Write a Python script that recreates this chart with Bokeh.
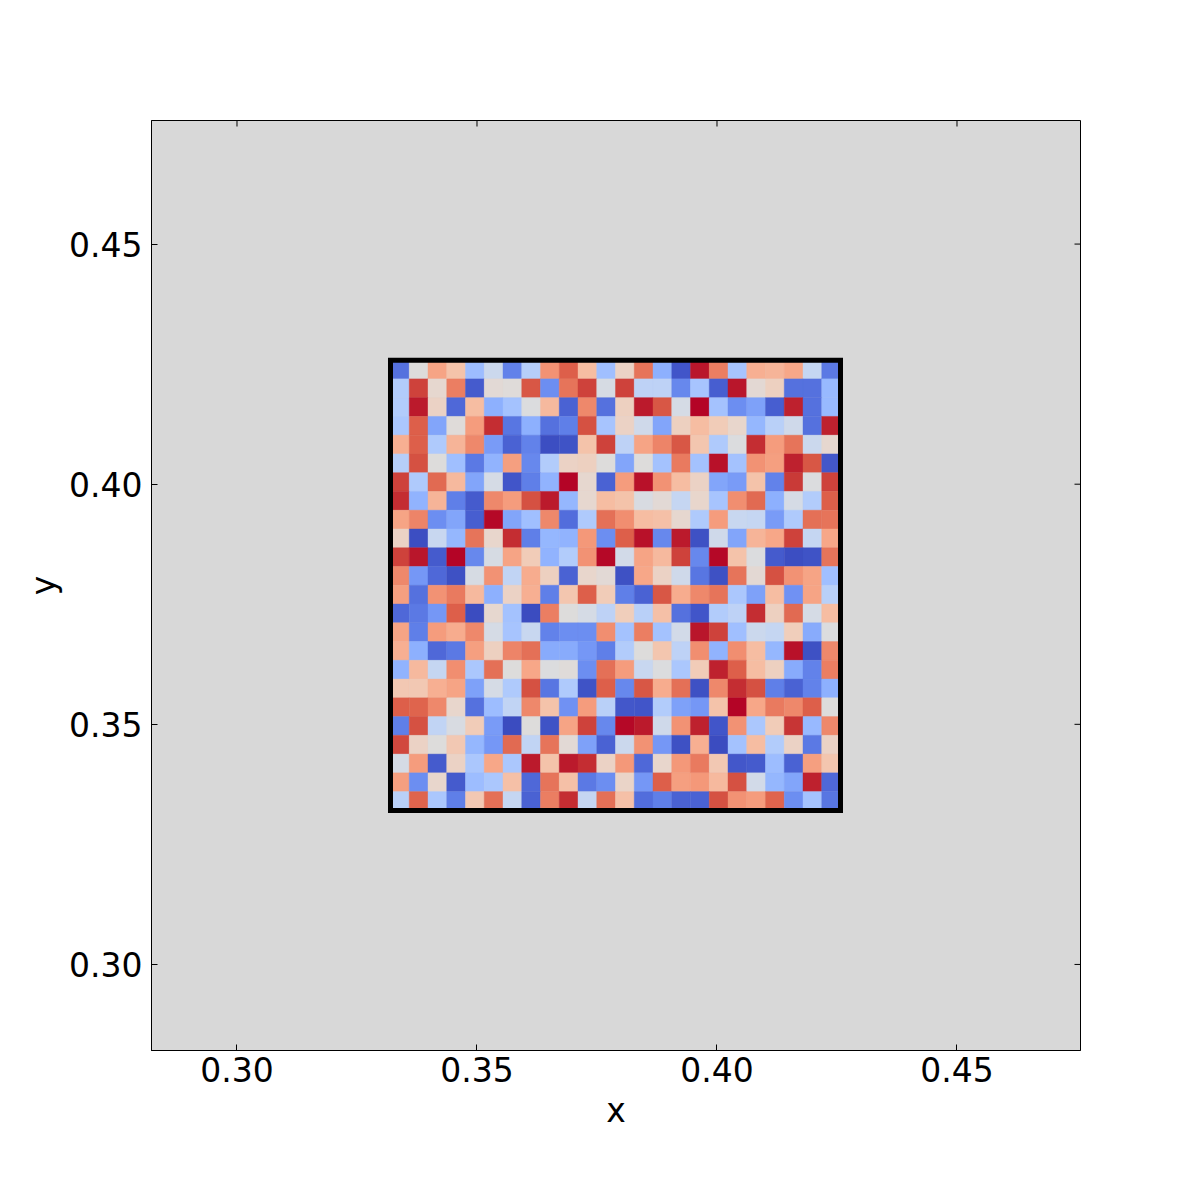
from bokeh.plotting import figure
from bokeh.embed import file_html
from bokeh.resources import INLINE
from bokeh.models import ColumnDataSource, FixedTicker, LinearColorMapper, NumeralTickFormatter, Range1d
import numpy as np

x_ticks = [0.30, 0.35, 0.40, 0.45]
y_ticks = [0.30, 0.35, 0.40, 0.45]

# rows listed from top to bottom, colour-scale values 0..1
row_00 = [.12,.50,.71,.63,.29,.42,.16,.36,.75,.85,.65,.30,.57,.81,.25,.04,.96,.79,.32,.68,.67,.70,.40,.14]
row_01 = [.35,.89,.54,.79,.06,.52,.51,.86,.18,.81,.89,.46,.89,.38,.38,.17,.32,.07,.96,.53,.58,.12,.12,.28]
row_02 = [.35,.95,.57,.10,.65,.25,.31,.49,.66,.08,.77,.12,.58,.95,.86,.45,1.0,.31,.18,.22,.07,.94,.12,.28]
row_03 = [.33,.85,.23,.51,.73,.92,.13,.25,.12,.15,.87,.32,.57,.43,.23,.58,.65,.60,.55,.27,.37,.43,.12,.94]
row_04 = [.68,.85,.34,.67,.77,.21,.08,.16,.01,.03,.63,.89,.38,.71,.78,.86,.62,.34,.49,.92,.73,.81,.42,.54]
row_05 = [.36,.87,.50,.30,.14,.26,.72,.17,.35,.57,.58,.50,.23,.50,.31,.80,.31,.97,.31,.75,.72,.94,.86,.05]
row_06 = [.89,.34,.83,.66,.23,.45,.04,.15,.26,1.0,.54,.08,.73,.97,.75,.65,.57,.23,.21,.63,.16,.90,.49,.89]
row_07 = [.92,.26,.67,.15,.06,.77,.73,.87,.95,.27,.54,.65,.63,.47,.52,.40,.55,.32,.76,.83,.25,.45,.35,.85]
row_08 = [.71,.78,.18,.23,.07,.99,.23,.30,.77,.11,.34,.82,.76,.65,.64,.54,.34,.73,.41,.40,.21,.34,.82,.81]
row_09 = [.57,.01,.41,.27,.81,.55,.92,.15,.27,.26,.74,.18,.85,.97,.17,.95,.02,.43,.23,.67,.70,.89,.40,.70]
row_10 = [.89,.96,.06,1.0,.17,.46,.71,.60,.26,.35,.75,.99,.44,.71,.66,.89,.17,.99,.63,.49,.06,.01,.03,.81]
row_11 = [.77,.20,.10,.02,.46,.75,.39,.69,.58,.08,.55,.52,.02,.70,.57,.43,.13,.02,.81,.53,.87,.75,.71,.30]
row_12 = [.72,.12,.75,.80,.66,.25,.57,.68,.15,.62,.85,.60,.15,.08,.86,.69,.77,.81,.33,.22,.65,.19,.71,.37]
row_13 = [.10,.14,.20,.85,.00,.54,.31,.00,.79,.50,.45,.38,.59,.37,.64,.12,.04,.35,.38,.92,.58,.83,.45,.65]
row_14 = [.71,.15,.73,.69,.77,.45,.32,.41,.16,.18,.18,.76,.31,.79,.31,.44,.96,.89,.30,.42,.40,.59,.24,.49]
row_15 = [.68,.25,.10,.14,.72,.58,.78,.82,.24,.24,.20,.15,.35,.50,.62,.38,.76,.26,.76,.65,.27,.97,.02,.77]
row_16 = [.26,.66,.40,.76,.33,.82,.50,.70,.49,.51,.18,.82,.73,.41,.49,.33,.60,.94,.85,.65,.58,.24,.16,.79]
row_17 = [.61,.61,.68,.71,.22,.45,.34,.87,.13,.34,.03,.85,.17,.86,.69,.82,.02,.77,.92,.87,.15,.08,.16,.25]
row_18 = [.85,.84,.77,.55,.12,.29,.39,.77,.63,.19,.73,.37,.05,.04,.35,.22,.20,.63,1.0,.70,.80,.77,.85,.50]
row_19 = [.15,.87,.39,.47,.60,.21,.00,.50,.03,.71,.89,.17,.99,.95,.43,.75,.94,.04,.75,.33,.60,.91,.28,.77]
row_20 = [.88,.57,.50,.61,.27,.20,.83,.39,.81,.52,.22,.08,.42,.75,.20,.02,.68,.00,.31,.65,.35,.57,.14,.57]
row_21 = [.45,.73,.06,.57,.33,.70,.33,.95,.63,.95,.92,.57,.74,.10,.55,.74,.80,.61,.05,.06,.29,.08,.72,.62]
row_22 = [.72,.18,.55,.06,.29,.33,.64,.10,.81,.64,.14,.18,.56,.20,.85,.72,.74,.66,.87,.44,.27,.23,.94,.10]
row_23 = [.37,.84,.33,.15,.61,.82,.40,.08,.79,.92,.40,.82,.64,.11,.15,.08,.08,.87,.75,.73,.84,.18,.31,.13]

rows = [row_00,row_01,row_02,row_03,row_04,row_05,row_06,row_07,row_08,row_09,row_10,row_11,
        row_12,row_13,row_14,row_15,row_16,row_17,row_18,row_19,row_20,row_21,row_22,row_23]

# coolwarm colour scale at steps of 0.05
coolwarm_stops = ["#3b4cc0","#4358cb","#4f69d9","#5f7fe8","#7597f6","#8db0fe","#a1c0ff","#b2ccfb",
                  "#c5d6f2","#d5dbe5","#dddcdc","#e8d6cc","#f1ccb8","#f6bda2","#f7a889","#f39475",
                  "#e97a5f","#dd604a","#ca3b37","#bb1b2c","#b40426"]

def build_palette(stops, n=256):
    rgb = np.array([[int(s[i:i+2], 16) for i in (1, 3, 5)] for s in stops], dtype=float)
    pos = np.linspace(0, 1, len(stops))
    t = np.linspace(0, 1, n)
    out = np.stack([np.interp(t, pos, rgb[:, k]) for k in range(3)], axis=1).round().astype(int)
    return ["#%02x%02x%02x" % tuple(c) for c in out]

x_min, x_max = 0.33198, 0.42573
y_min, y_max = 0.33208, 0.42583
x0_view, x1_view = 0.28219, 0.47573
y0_view, y1_view = 0.28208, 0.47573
tick_len_x = (x1_view - x0_view) * 6 / 929
tick_len_y = (y1_view - y0_view) * 6 / 930
n_rows, n_cols = len(rows), len(rows[0])
dx = (x_max - x_min) / n_cols
dy = (y_max - y_min) / n_rows

cx, cy, vals = [], [], []
for r, row in enumerate(rows):
    for c, v in enumerate(row):
        cx.append(x_min + (c + 0.5) * dx)
        cy.append(y_max - (r + 0.5) * dy)
        vals.append(v)
src = ColumnDataSource(dict(x=cx, y=cy, v=vals))

FONT = "DejaVu Sans"
SIZE = "33px"

p = figure(width=1184, height=1184, output_backend="svg", toolbar_location=None,
           x_range=Range1d(x0_view, x1_view), y_range=Range1d(y0_view, y1_view),
           min_border_left=151, min_border_right=104, min_border_top=120, min_border_bottom=134,
           background_fill_color="#d8d8d8", border_fill_color="white", x_axis_label="x", y_axis_label="y")
p.grid.visible = False
p.outline_line_color = "black"
p.outline_line_width = 1

mapper = LinearColorMapper(palette=build_palette(coolwarm_stops), low=0, high=1)
p.rect("x", "y", width=dx, height=dy, source=src,
       fill_color={"field": "v", "transform": mapper},
       line_color={"field": "v", "transform": mapper}, line_width=0.4)
p.rect([(x_min + x_max) / 2], [(y_min + y_max) / 2], width=x_max - x_min, height=y_max - y_min,
       fill_color=None, line_color="black", line_width=5, line_join="miter")

# mirrored tick marks along the top and right edges
p.segment(x0=x_ticks, y0=[y1_view] * len(x_ticks), x1=x_ticks, y1=[y1_view - tick_len_y] * len(x_ticks),
          line_color="black", line_width=1)
p.segment(x0=[x1_view] * len(y_ticks), y0=y_ticks, x1=[x1_view - tick_len_x] * len(y_ticks), y1=y_ticks,
          line_color="black", line_width=1)

fmt = NumeralTickFormatter(format="0.00")
for ax, ticks in ((p.xaxis[0], x_ticks), (p.yaxis[0], y_ticks)):
    ax.ticker = FixedTicker(ticks=ticks)
    ax.formatter = fmt
    ax.major_tick_in = 6
    ax.major_tick_out = 0
    ax.minor_tick_in = 0
    ax.minor_tick_out = 0
    ax.major_label_text_font = FONT
    ax.major_label_text_font_size = SIZE
    ax.major_label_text_color = "black"
    ax.axis_label_text_font = FONT
    ax.axis_label_text_font_size = SIZE
    ax.axis_label_text_font_style = "normal"
    ax.axis_label_text_color = "black"
    ax.axis_line_color = "black"
    ax.major_tick_line_color = "black"
p.xaxis[0].major_label_standoff = 6
p.yaxis[0].major_label_standoff = 9
p.xaxis[0].axis_label_standoff = 6
p.yaxis[0].axis_label_standoff = 3

open("out.html", "w").write(file_html(p, INLINE))
